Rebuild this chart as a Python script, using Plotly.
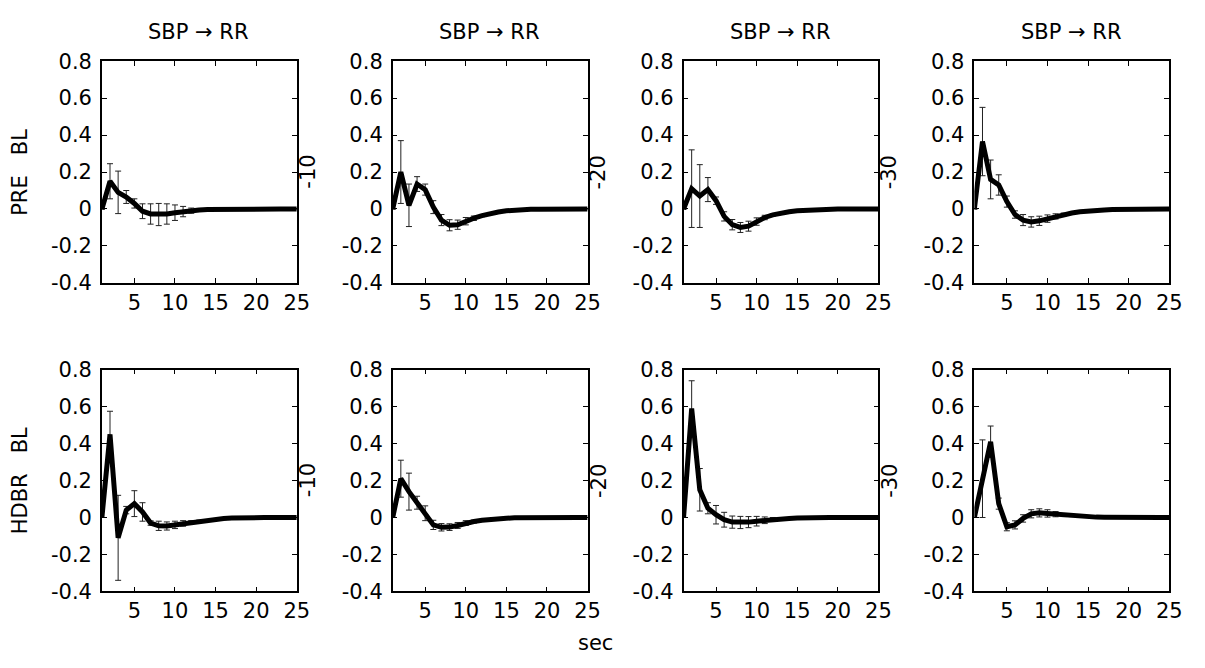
import plotly.graph_objects as go

W, H = 1205, 668
t = list(range(1, 26))

# PRE BL row
pre_c1 = [0, 0.15, 0.09, 0.065, 0.03, -0.012, -0.027, -0.03, -0.027, -0.02, -0.014, -0.009, -0.005, -0.003, -0.002, -0.001, 0, 0, 0, 0, 0, 0, 0, 0, 0]
pre_c1_err = [0, 0.095, 0.115, 0.035, 0.025, 0.04, 0.055, 0.06, 0.055, 0.042, 0.028, 0.014, 0.008, 0, 0, 0, 0, 0, 0, 0, 0, 0, 0, 0, 0]
pre_c2 = [0, 0.2, 0.02, 0.135, 0.105, 0.01, -0.06, -0.088, -0.085, -0.066, -0.05, -0.036, -0.025, -0.016, -0.01, -0.006, -0.004, -0.002, -0.001, 0, 0, 0, 0, 0, 0]
pre_c2_err = [0, 0.17, 0.115, 0.04, 0.03, 0.035, 0.03, 0.03, 0.025, 0.02, 0.012, 0.006, 0, 0, 0, 0, 0, 0, 0, 0, 0, 0, 0, 0, 0]
pre_c3 = [0, 0.11, 0.07, 0.105, 0.045, -0.04, -0.085, -0.1, -0.093, -0.068, -0.046, -0.032, -0.022, -0.015, -0.01, -0.007, -0.004, -0.002, -0.001, 0, 0, 0, 0, 0, 0]
pre_c3_err = [0, 0.21, 0.17, 0.065, 0.02, 0.025, 0.028, 0.027, 0.027, 0.02, 0.012, 0.006, 0, 0, 0, 0, 0, 0, 0, 0, 0, 0, 0, 0, 0]
pre_c4 = [0, 0.365, 0.16, 0.13, 0.04, -0.03, -0.06, -0.07, -0.064, -0.052, -0.04, -0.03, -0.022, -0.015, -0.01, -0.007, -0.005, -0.003, -0.002, -0.001, 0, 0, 0, 0, 0]
pre_c4_err = [0, 0.185, 0.105, 0.055, 0.03, 0.02, 0.03, 0.028, 0.025, 0.02, 0.014, 0.008, 0.004, 0, 0, 0, 0, 0, 0, 0, 0, 0, 0, 0, 0]

# HDBR BL row
hdbr_c1 = [0, 0.45, -0.11, 0.04, 0.075, 0.03, -0.03, -0.045, -0.046, -0.04, -0.032, -0.025, -0.018, -0.012, -0.008, -0.005, -0.003, -0.001, 0, 0, 0, 0, 0, 0, 0]
hdbr_c1_err = [0, 0.125, 0.23, 0.02, 0.07, 0.05, 0.012, 0.025, 0.022, 0.02, 0.015, 0.008, 0.004, 0, 0, 0, 0, 0, 0, 0, 0, 0, 0, 0, 0]
hdbr_c2 = [0, 0.21, 0.14, 0.08, 0.023, -0.04, -0.053, -0.052, -0.043, -0.03, -0.022, -0.015, -0.01, -0.007, -0.004, -0.002, -0.001, 0, 0, 0, 0, 0, 0, 0, 0]
hdbr_c2_err = [0, 0.1, 0.1, 0.035, 0.04, 0.025, 0.02, 0.018, 0.016, 0.013, 0.008, 0.004, 0, 0, 0, 0, 0, 0, 0, 0, 0, 0, 0, 0, 0]
hdbr_c3 = [0, 0.59, 0.15, 0.05, 0.015, -0.012, -0.025, -0.027, -0.025, -0.02, -0.015, -0.01, -0.008, -0.005, -0.003, -0.001, 0, 0, 0, 0, 0, 0, 0, 0, 0]
hdbr_c3_err = [0, 0.15, 0.115, 0.03, 0.05, 0.04, 0.033, 0.033, 0.03, 0.026, 0.018, 0.01, 0.005, 0, 0, 0, 0, 0, 0, 0, 0, 0, 0, 0, 0]
hdbr_c4 = [0, 0.21, 0.41, 0.075, -0.05, -0.04, -0.005, 0.02, 0.025, 0.022, 0.018, 0.013, 0.009, 0.006, 0.004, 0.002, 0.001, 0, 0, 0, 0, 0, 0, 0, 0]
hdbr_c4_err = [0, 0.21, 0.085, 0.03, 0.022, 0.022, 0.02, 0.022, 0.022, 0.02, 0.014, 0.008, 0.004, 0, 0, 0, 0, 0, 0, 0, 0, 0, 0, 0, 0]

col_titles = ["SBP \u2192 RR"] * 4
row_labels = ["PRE\u00a0\u00a0\u00a0BL", "HDBR\u00a0\u00a0\u00a0BL"]
lag_labels = ["-10", "-20", "-30"]
x_ticks = [5, 10, 15, 20, 25]
y_ticks = [0.8, 0.6, 0.4, 0.2, 0, -0.2, -0.4]
y_tick_text = ["0.8", "0.6", "0.4", "0.2", "0", "-0.2", "-0.4"]
x_label = "sec"

series = [
    [(pre_c1, pre_c1_err), (pre_c2, pre_c2_err), (pre_c3, pre_c3_err), (pre_c4, pre_c4_err)],
    [(hdbr_c1, hdbr_c1_err), (hdbr_c2, hdbr_c2_err), (hdbr_c3, hdbr_c3_err), (hdbr_c4, hdbr_c4_err)],
]

FONT = "DejaVu Sans"
FS = 21
col_left = [103, 397, 691, 985]
panel_w = 197
row_top = [51, 371]
panel_h = 230

fig = go.Figure()
layout = {}
for r in range(2):
    for c in range(4):
        idx = r * 4 + c + 1
        xa = "x" if idx == 1 else f"x{idx}"
        ya = "y" if idx == 1 else f"y{idx}"
        vals, errs = series[r][c]
        fig.add_trace(go.Scatter(
            x=t, y=vals, xaxis=xa, yaxis=ya, mode="lines",
            line=dict(color="black", width=5),
            error_y=dict(type="data", array=errs, visible=True, color="#222222",
                         thickness=1, width=3),
            showlegend=False, hoverinfo="skip",
        ))
        x0 = col_left[c] / W
        x1 = (col_left[c] + panel_w) / W
        y1 = 1 - row_top[r] / H
        y0 = 1 - (row_top[r] + panel_h) / H
        common = dict(showline=True, linecolor="black", linewidth=1.5, mirror="ticks",
                      ticks="inside", ticklen=5, tickcolor="black", showgrid=False,
                      zeroline=False, tickfont=dict(family=FONT, size=FS, color="black"))
        layout["xaxis" if idx == 1 else f"xaxis{idx}"] = dict(
            domain=[x0, x1], range=[1, 25], tickvals=x_ticks,
            anchor=ya, **common)
        layout["yaxis" if idx == 1 else f"yaxis{idx}"] = dict(
            domain=[y0, y1], range=[-0.4, 0.8], tickvals=y_ticks, ticktext=y_tick_text,
            anchor=xa, ticklabelstandoff=4, **common)

fig.update_layout(**layout)

ann = []
for c in range(4):
    ann.append(dict(x=(col_left[c] + 98) / W, y=1 - 21 / H, text=col_titles[c],
                    showarrow=False, xref="paper", yref="paper",
                    font=dict(family=FONT, size=FS, color="black"),
                    xanchor="center", yanchor="middle"))
for r, lbl in enumerate(row_labels):
    ann.append(dict(x=20 / W, y=1 - (row_top[r] + 115) / H, text=lbl, textangle=-90,
                    showarrow=False, xref="paper", yref="paper",
                    font=dict(family=FONT, size=FS, color="black"),
                    xanchor="center", yanchor="middle"))
    for c, lag in enumerate(lag_labels):
        ann.append(dict(x=(col_left[c] + panel_w + 11) / W, y=1 - (row_top[r] + 115) / H,
                        text=lag, textangle=-90, showarrow=False,
                        xref="paper", yref="paper",
                        font=dict(family=FONT, size=FS, color="black"),
                        xanchor="center", yanchor="middle"))
ann.append(dict(x=602 / W, y=1 - 654 / H, text=x_label, showarrow=False,
                xref="paper", yref="paper",
                font=dict(family=FONT, size=FS, color="black"),
                xanchor="center", yanchor="middle"))

fig.update_layout(
    width=W, height=H, margin=dict(l=0, r=0, t=0, b=0),
    paper_bgcolor="white", plot_bgcolor="white", annotations=ann,
)

fig.write_html("out.html")
